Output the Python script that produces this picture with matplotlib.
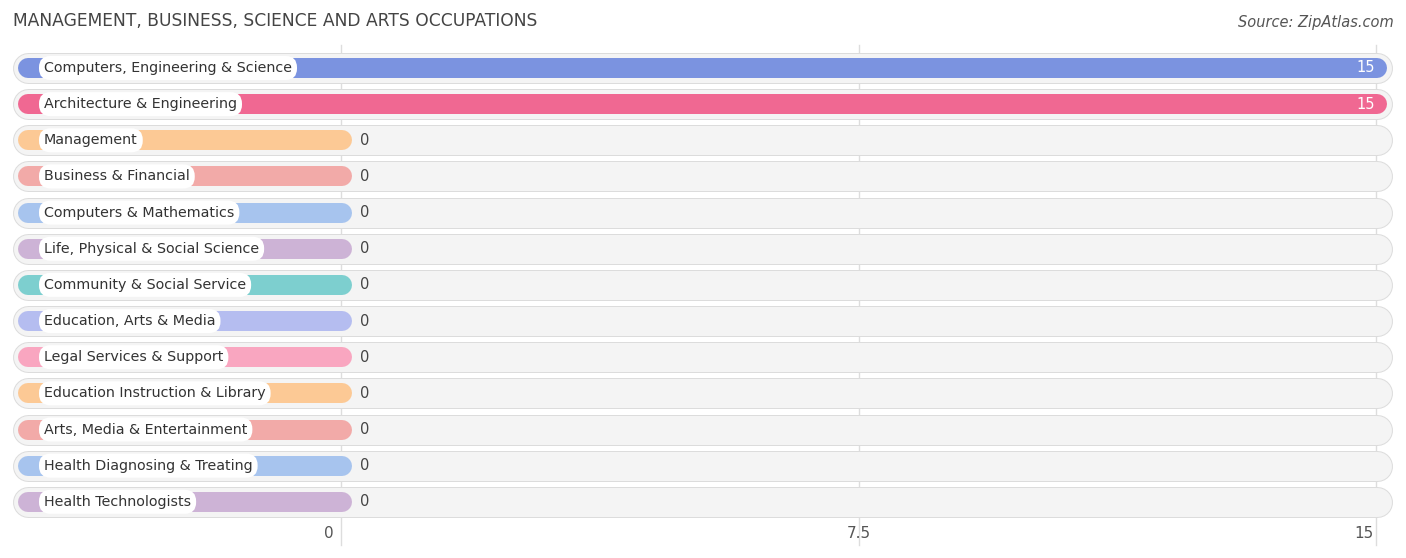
import matplotlib
matplotlib.use("Agg")
import matplotlib.pyplot as plt

categories = ["Computers, Engineering & Science", "Architecture & Engineering", "Management",
              "Business & Financial", "Computers & Mathematics", "Life, Physical & Social Science",
              "Community & Social Service", "Education, Arts & Media", "Legal Services & Support",
              "Education Instruction & Library", "Arts, Media & Entertainment",
              "Health Diagnosing & Treating", "Health Technologists"]
values = [15, 15, 0, 0, 0, 0, 0, 0, 0, 0, 0, 0, 0]
colors = ["#7b93e0", "#f06892", "#fcc995", "#f2aaa8", "#a7c4ee", "#cdb3d6", "#7dcfcf",
          "#b5bdf0", "#f9a6c0", "#fcc995", "#f2aaa8", "#a7c4ee", "#cdb3d6"]
ticks = [0, 7.5, 15]
tick_labels = ["0", "7.5", "15"]

W, H = 1406, 558
fig = plt.figure(figsize=(W/100, H/100), dpi=100)
ax = fig.add_axes([0, 0, 1, 1])
x0, ppu = 341, 69.0
ax.set_xlim(-x0/ppu, (W-x0)/ppu)
ax.set_ylim(H, 0)
ax.axis("off")
px = lambda p: (p - x0)/ppu
pt = 72/100

for t, tl in zip(ticks, tick_labels):
    ax.plot([t, t], [45, 545], color="#dddddd", lw=1, zorder=0)
    off = -0.17 if t in (0, 15) else 0
    ax.text(t + off, 534, tl, ha="center", va="center", fontsize=11, color="#555555")

for i, (c, v, col) in enumerate(zip(categories, values, colors)):
    y = 68 + i*36.15
    ax.plot([px(28), px(1377)], [y, y], color="#dcdcdc", lw=31*pt, solid_capstyle="round", zorder=1)
    ax.plot([px(28), px(1377)], [y, y], color="#f4f4f4", lw=29*pt, solid_capstyle="round", zorder=2)
    end = x0 + ppu*v + 11
    ax.plot([px(28), px(end - 10)], [y, y], color=col, lw=20*pt, solid_capstyle="round", zorder=3)
    ax.text(px(44), y, c, ha="left", va="center", fontsize=10.3, color="#333333", zorder=5,
            bbox=dict(boxstyle="round,pad=0.35,rounding_size=0.8", fc="white", ec="none"))
    if v > 0:
        ax.text(px(end - 12), y, str(v), ha="right", va="center", fontsize=10.5, color="white", zorder=5)
    else:
        ax.text(px(end + 8), y, str(v), ha="left", va="center", fontsize=10.5, color="#444444", zorder=5)

ax.text(px(13), 21, "MANAGEMENT, BUSINESS, SCIENCE AND ARTS OCCUPATIONS", ha="left", va="center",
        fontsize=12.3, color="#444444")
ax.text(px(1394), 23, "Source: ZipAtlas.com", ha="right", va="center", fontsize=10.5,
        color="#555555", style="italic")
fig.savefig("out.png", dpi=100)
